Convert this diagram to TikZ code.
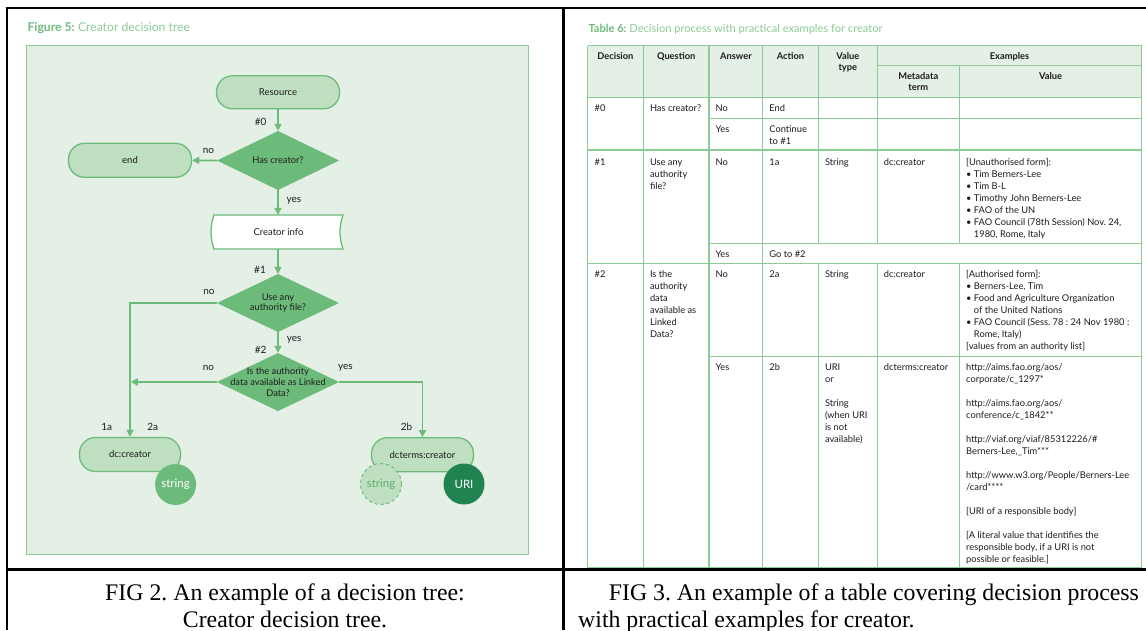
\documentclass[tikz,border=0pt]{standalone}
\usepackage{fontspec}
\setmainfont{Lato}
\newfontfamily\capfont{Liberation Serif}
\usetikzlibrary{arrows.meta,shapes.geometric}
\definecolor{mgreen}{HTML}{6DBB7B}
\definecolor{lgreen}{HTML}{BFDFC1}
\definecolor{pgreen}{HTML}{E4EFE5}
\definecolor{bgreen}{HTML}{8DCB96}
\definecolor{dgreen}{HTML}{1F8450}
\definecolor{tgreen}{HTML}{8CCB95}
\definecolor{sgreen}{HTML}{5FB06E}
\definecolor{txt}{HTML}{1E1B1C}
\newcommand\fsz[2]{\fontsize{#1}{#2}\selectfont}
\newcommand\tc[1]{\begin{tabular}[t]{@{}l@{}}#1\end{tabular}}
\newcommand\hc[1]{\begin{tabular}[t]{@{}c@{}}#1\end{tabular}}
\newcommand\bul{\textbullet\ }
\newcommand\nobul{\phantom{\textbullet\ }}
\frenchspacing
\begin{document}
\begin{tikzpicture}[x=1pt,y=-1pt,
  term/.style={rectangle, rounded corners=16pt, draw=mgreen, line width=1.3pt, fill=lgreen, inner sep=0pt, font=\fsz{9.5}{11}, text=txt},
  dia/.style={rectangle, minimum width=122pt, minimum height=58pt, inner sep=0pt, align=center, font=\fsz{9.3}{10.8}, text=txt,
    path picture={\fill[mgreen] (path picture bounding box.west) -- (path picture bounding box.north) -- (path picture bounding box.east) -- (path picture bounding box.south) -- cycle;}},
  conn/.style={draw=mgreen, line width=1.8pt, -{Triangle[length=7pt,width=7pt]}},
  lbl/.style={font=\fsz{10}{12}, text=txt, inner sep=0pt},
  blob/.style={circle, minimum size=41pt, inner sep=0pt, font=\fsz{11.5}{12}},
  tline/.style={draw=bgreen, line width=1.2pt},
  cell/.style={anchor=base west, inner sep=0pt, font=\fsz{9.3}{12}, text=txt},
  head/.style={anchor=base, inner sep=0pt, font=\fsz{9.3}{11}\bfseries, text=txt},
  captxt/.style={inner sep=0pt, font=\capfont\fsz{23.8}{27}, text=black},
  outline/.style={line width=2.5pt, draw=black}
]
\useasboundingbox (0,0) rectangle (1146,630);
\fill[white] (0,0) rectangle (1146,630);

% ---------- left panel ----------
\node[anchor=base west, inner sep=0pt, font=\fsz{12.2}{14}] (ftitle) at (27.3,31.7) {\textcolor{mgreen}{\bfseries Figure 5:} \textcolor{tgreen}{Creator decision tree}};
\draw[draw=bgreen, fill=pgreen, line width=1pt] (26.5,45.3) rectangle (528,554.3);

\node[term, minimum width=123pt, minimum height=33pt] (res) at (278,92.3) {Resource};
\node[dia, minimum height=59pt] (d1) at (278,160.5) {Has creator?};
\node[term, minimum width=123pt, minimum height=34pt] (end) at (130,160.3) {end};
\draw[line width=1.3pt, draw=mgreen, fill=white] (214,215) .. controls (210,226) and (210,238) .. (214,249) -- (343,249) .. controls (339,238) and (339,226) .. (343,215) -- cycle;
\node[minimum width=129pt, minimum height=34pt, inner sep=0pt, font=\fsz{9.5}{11}, text=txt] (ci) at (278.5,232) {Creator info};
\node[dia] (d2) at (278,303) {Use any\\authority file?};
\node[dia] (d3) at (278,382) {Is the authority\\data available as Linked\\Data?};
\node[term, minimum width=101pt, minimum height=34pt] (dc) at (130,454.5) {dc:creator};
\node[term, minimum width=102pt, minimum height=34pt] (dct) at (422.5,454.7) {dcterms:creator};
\node[blob, fill=mgreen, text=white] (s1) at (175.6,484.5) {string};
\node[blob, fill=lgreen, draw=mgreen, dashed, line width=1pt, text=sgreen] (s2) at (381,484) {string};
\node[blob, fill=dgreen, text=white] (uri) at (464,484) {URI};

\draw[conn] (res) -- (d1);
\draw[conn] (d1) -- (end);
\draw[conn] (d1.south) -- (d1.south |- ci.north);
\draw[conn] (d1.south |- ci.south) -- (d2.north);
\draw[conn] (d2.west) -| (dc.north);
\draw[conn] (d2) -- (d3);
\coordinate (j) at (d3.west -| dc.north);
\draw[conn, shorten >=0.8pt] (d3.west) -- (j);
\draw[conn] (d3.east) -| (dct.north);

\node[lbl] (l0) at (260.7,121.7) {\#0};
\node[lbl] (n0) at (208.4,150.7) {no};
\node[lbl] (y0) at (294,200.3) {yes};
\node[lbl] (l1) at (260,270) {\#1};
\node[lbl] (n1) at (209,291.7) {no};
\node[lbl] (y1) at (294.2,339.7) {yes};
\node[lbl] (l2) at (260.7,350) {\#2};
\node[lbl] (n2) at (208.4,367.7) {no};
\node[lbl] (y2) at (345.5,367.7) {yes};
\node[lbl] (a1) at (106.7,427.3) {1a};
\node[lbl] (a2) at (152.7,427.3) {2a};
\node[lbl] (b2) at (406.5,427) {2b};

% ---------- right panel: table ----------
\node[anchor=base west, inner sep=0pt, font=\fsz{11.1}{13}] (ttitle) at (588.3,32.7) {\textcolor{mgreen}{\bfseries Table 6:} \textcolor{tgreen}{Decision process with practical examples for creator}};
\fill[pgreen] (587.5,45.7) rectangle (1141.7,97.3);
\draw[tline] (587.5,45.7) -- (1141.7,45.7);
\draw[tline] (877.2,65.7) -- (1141.7,65.7);
\draw[tline] (587.5,97.3) -- (1141.7,97.3);
\draw[tline] (709,118.3) -- (1141.7,118.3);
\draw[tline] (587.5,150) -- (1141.7,150);
\draw[tline] (709,243.3) -- (1141.7,243.3);
\draw[tline] (587.5,263.3) -- (1141.7,263.3);
\draw[tline] (709,356.7) -- (1141.7,356.7);
\draw[tline] (587.5,568) -- (1141.7,568);
\foreach \x in {587.5,643.3,709,762.7,1141.7} \draw[tline] (\x,45.7) -- (\x,568);
\foreach \x in {818.3,877.2} {\draw[tline] (\x,45.7) -- (\x,243.3); \draw[tline] (\x,263.3) -- (\x,568);}
\draw[tline] (959.5,65.7) -- (959.5,243.3);
\draw[tline] (959.5,263.3) -- (959.5,568);

\node[head] (h1) at (615.4,59.1) {Decision};
\node[head] (h2) at (676.2,59.1) {Question};
\node[head] (h3) at (735.9,59.1) {Answer};
\node[head] (h4) at (790.5,59.1) {Action};
\node[head] (h5) at (847.8,59.1) {\hc{Value\\type}};
\node[head] (h6) at (1009.5,59.1) {Examples};
\node[head] (h7) at (918.3,79.4) {\hc{Metadata\\term}};
\node[head] (h8) at (1050.6,79.4) {Value};

% row #0
\node[cell] (r0d) at (594.5,111.7) {\#0};
\node[cell] (r0q) at (649.8,111.7) {Has creator?};
\node[cell] (r0a) at (715.5,111.7) {No};
\node[cell] (r0c) at (769.2,111.7) {End};
\node[cell] (r0b) at (715.5,132.4) {Yes};
\node[cell] (r0e) at (769.2,132.4) {\tc{Continue\\to \#1}};
% row #1
\node[cell] (r1d) at (594.5,165.1) {\#1};
\node[cell] (r1q) at (649.8,165.1) {\tc{Use any\\authority\\file?}};
\node[cell] (r1a) at (715.5,165.1) {No};
\node[cell] (r1c) at (769.2,165.1) {1a};
\node[cell] (r1t) at (824.8,165.1) {String};
\node[cell] (r1m) at (883.7,165.1) {dc:creator};
\node[cell] (r1v) at (966,165.1) {\tc{[Unauthorised form]:\\\bul Tim Berners-Lee\\\bul Tim B-L\\\bul Timothy John Berners-Lee\\\bul FAO of the UN\\\bul FAO Council (78th Session) Nov. 24,\\\nobul 1980, Rome, Italy}};
\node[cell] (r1b) at (715.5,257.4) {Yes};
\node[cell] (r1g) at (769.2,257.4) {Go to \#2};
% row #2
\node[cell] (r2d) at (594.5,277.4) {\#2};
\node[cell] (r2q) at (649.8,277.4) {\tc{Is the\\authority\\data\\available as\\Linked\\Data?}};
\node[cell] (r2a) at (715.5,277.4) {No};
\node[cell] (r2c) at (769.2,277.4) {2a};
\node[cell] (r2t) at (824.8,277.4) {String};
\node[cell] (r2m) at (883.7,277.4) {dc:creator};
\node[cell] (r2v) at (966,277.4) {\tc{[Authorised form]:\\\bul Berners-Lee, Tim\\\bul Food and Agriculture Organization\\\nobul of the United Nations\\\bul FAO Council (Sess. 78 : 24 Nov 1980 :\\\nobul Rome, Italy)\\{}[values from an authority list]}};
\node[cell] (r2b) at (715.5,370.1) {Yes};
\node[cell] (r2e) at (769.2,370.1) {2b};
\node[cell] (r2u) at (824.8,370.1) {\tc{URI\\or\\ \\String\\(when URI\\is not\\available)}};
\node[cell] (r2n) at (883.7,370.1) {dcterms:creator};
\node[cell] (r2w) at (966,370.1) {\tc{http://aims.fao.org/aos/\\corporate/c\_1297*\\ \\http://aims.fao.org/aos/\\conference/c\_1842**\\ \\http://viaf.org/viaf/85312226/\#\\Berners-Lee,\_Tim***\\ \\http://www.w3.org/People/Berners-Lee\\/card****\\ \\{}[URI of a responsible body]\\ \\{}[A literal value that identifies the\\responsible body, if a URI is not\\possible or feasible.]}};

% ---------- frame and captions ----------
\draw[outline] (5.5,8) -- (1146,8);
\draw[outline] (7,6.8) -- (7,630);
\draw[outline] (563.5,8) -- (563.5,630);
\draw[outline, line width=2.2pt] (7,569.5) -- (1146,569.5);

\node[captxt, anchor=base] (f2a) at (285,600) {FIG 2. An example of a decision tree:};
\node[captxt, anchor=base] (f2b) at (285,627) {Creator decision tree.};
\node[captxt, anchor=base west] (f3a) at (608.7,600) {FIG 3. An example of a table covering decision process};
\node[captxt, anchor=base west] (f3b) at (578,627) {with practical examples for creator.};
\end{tikzpicture}
\end{document}
